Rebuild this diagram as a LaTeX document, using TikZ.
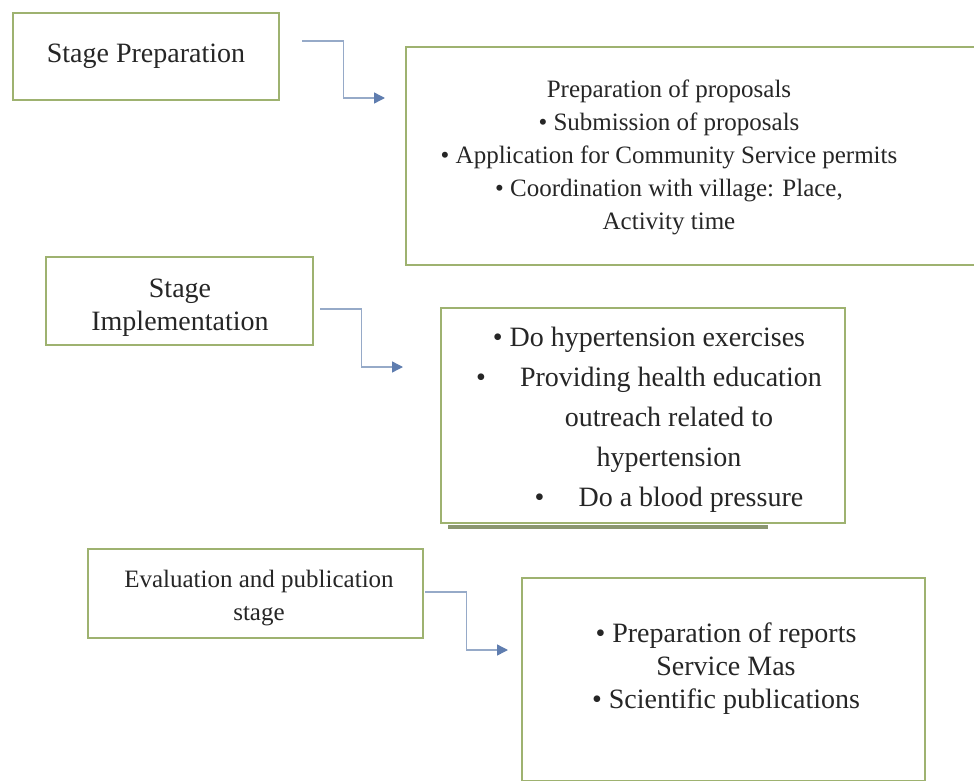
\documentclass[tikz,border=0pt]{standalone}
\usepackage{fontspec}
\setmainfont{Liberation Serif}
\usetikzlibrary{calc,arrows.meta}

\definecolor{boxgreen}{RGB}{158,178,112}
\definecolor{shadowgreen}{RGB}{138,150,112}
\definecolor{linkblue}{RGB}{150,170,200}
\definecolor{tipblue}{RGB}{95,125,175}

\tikzset{
	stagebox/.style={draw=boxgreen, line width=1.1pt, fill=white, inner sep=0pt},
	txt/.style={align=center, inner sep=0pt, text=black!85,
		font=\fontsize{14}{16.5}\selectfont},
	smalltxt/.style={txt, font=\fontsize{12.5}{16.5}\selectfont},
	link/.style={draw=linkblue, line width=0.7pt,
		-{Triangle[length=5.5pt,width=5.5pt,fill=tipblue,color=tipblue]}}
}

\begin{document}
\begin{tikzpicture}[x=0.5pt, y=-0.5pt]

	% ---- frame

	\useasboundingbox (0,0) rectangle (974,781);

	% ---- boxes

	\node[stagebox, minimum width=133pt, minimum height=43.5pt] (prep) at (146,56.5) {};
	\node[stagebox, minimum width=289.5pt, minimum height=109pt] (propbox) at (695.5,156) {};
	\node[stagebox, minimum width=133.5pt, minimum height=44pt] (impl) at (179.5,301) {};
	\draw[shadowgreen, line width=1.8pt] (448,527) -- (768,527);
	\node[stagebox, minimum width=202pt, minimum height=107.5pt] (actbox) at (643,415.5) {};
	\node[stagebox, minimum width=167.5pt, minimum height=44.5pt] (eval) at (255.5,593.5) {};
	\node[stagebox, minimum width=201.5pt, minimum height=101.5pt] (repbox) at (723.5,679.5) {};

	% ---- texts

	\node[txt] (prept) at (prep) {Stage Preparation};
	\node[txt] (implt) at (180,307.5) {Stage\\Implementation};
	\node[smalltxt] (evalt) at (259,598) {Evaluation and publication\\stage};

	\node[smalltxt] (propt) at (669,157) {Preparation of proposals\\
		\textbullet\ Submission of proposals\\
		\textbullet\ Application for Community Service permits\\
		\textbullet\ Coordination with village: Place,\\
		Activity time};

	\node[txt, font=\fontsize{14}{20}\selectfont] (actt) at (669,420)
		{\mbox{\textbullet\ Do hypertension exercises\hspace{20pt}}\\
		\mbox{\textbullet\hspace{17pt}Providing health education\hspace{20pt}}\\
		outreach related to\\
		hypertension\\
		\textbullet\hspace{17pt}Do a blood pressure};

	\node[txt] (rept) at (726,669) {\textbullet\ Preparation of reports\\
		Service Mas\\
		\textbullet\ Scientific publications};

	% ---- links

	\coordinate (a1) at (302,41);  \coordinate (b1) at (385,98);
	\coordinate (a2) at (320,309); \coordinate (b2) at (403,367);
	\coordinate (a3) at (425,592); \coordinate (b3) at (508,650);

	\foreach \i in {1,2,3} {
		\draw[link] (a\i) -| ($(a\i)!0.5!(b\i)$) |- (b\i);
	}

\end{tikzpicture}
\end{document}
